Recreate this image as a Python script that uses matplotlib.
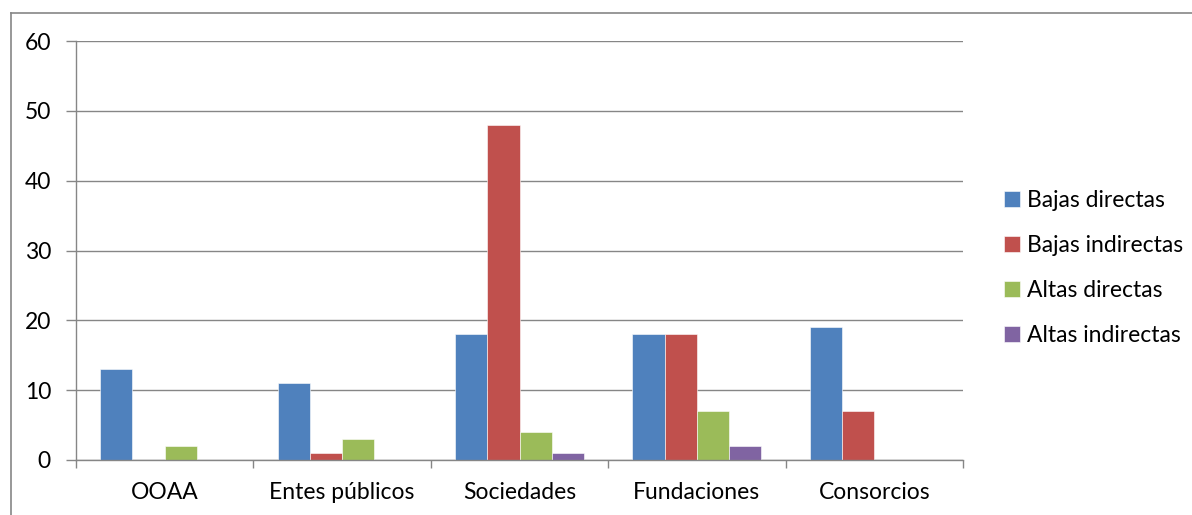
import numpy as np
import matplotlib.pyplot as plt
from matplotlib.lines import Line2D

categorias = ['OOAA', 'Entes públicos', 'Sociedades', 'Fundaciones', 'Consorcios']
series = ['Bajas directas', 'Bajas indirectas', 'Altas directas', 'Altas indirectas']
bajas_directas = [13, 11, 18, 18, 19]
bajas_indirectas = [0, 1, 48, 18, 7]
altas_directas = [2, 3, 4, 7, 0]
altas_indirectas = [0, 0, 1, 2, 0]
colores = ['#4F81BD', '#C0504D', '#9BBB59', '#8064A2']

plt.rcParams['font.family'] = ['Lato', 'DejaVu Sans']
plt.rcParams['font.size'] = 16.5

fig = plt.figure(figsize=(11.92, 5.15), dpi=100)
ax = fig.add_axes([76/1192, 1-460/515, (963-76)/1192, (460-41)/515])

x = np.arange(len(categorias))
w = 1/5.5
valores = [bajas_directas, bajas_indirectas, altas_directas, altas_indirectas]
for i, (nombre, v) in enumerate(zip(series, valores)):
    ax.bar(x + (i-1.5)*w, v, w, color=colores[i], label=nombre,
           edgecolor='white', linewidth=0.4)

ax.set_xlim(-0.5, len(categorias)-0.5)
ax.set_ylim(0, 60)
ax.set_yticks(range(0, 61, 10))
ax.set_axisbelow(True)
ax.yaxis.grid(True, color='#868686', linewidth=1)

gris = '#868686'
for s in ['top', 'right']:
    ax.spines[s].set_visible(False)
for s in ['left', 'bottom']:
    ax.spines[s].set_color(gris)
    ax.spines[s].set_linewidth(1)

ax.tick_params(axis='y', length=7, width=1, color=gris, pad=11)
ax.set_xticks(np.arange(-0.5, len(categorias), 1))
ax.set_xticklabels([])
ax.tick_params(axis='x', which='major', length=6, width=1, color=gris)
ax.set_xticks(x, minor=True)
ax.set_xticklabels(categorias, minor=True)
ax.tick_params(axis='x', which='minor', length=0, pad=16)

fig.legend(loc='center left', bbox_to_anchor=(995/1192, 1-268/515),
           frameon=False, handlelength=0.7, handleheight=0.7,
           handletextpad=0.3, labelspacing=1.05, borderaxespad=0)

# marco del grafico
fig.add_artist(Line2D([11/1192, 11/1192], [0, 1-13/515], transform=fig.transFigure,
                      color=gris, linewidth=1.2))
fig.add_artist(Line2D([11/1192, 1], [1-13/515, 1-13/515], transform=fig.transFigure,
                      color=gris, linewidth=1.2))

fig.savefig('out.png', dpi=100)
